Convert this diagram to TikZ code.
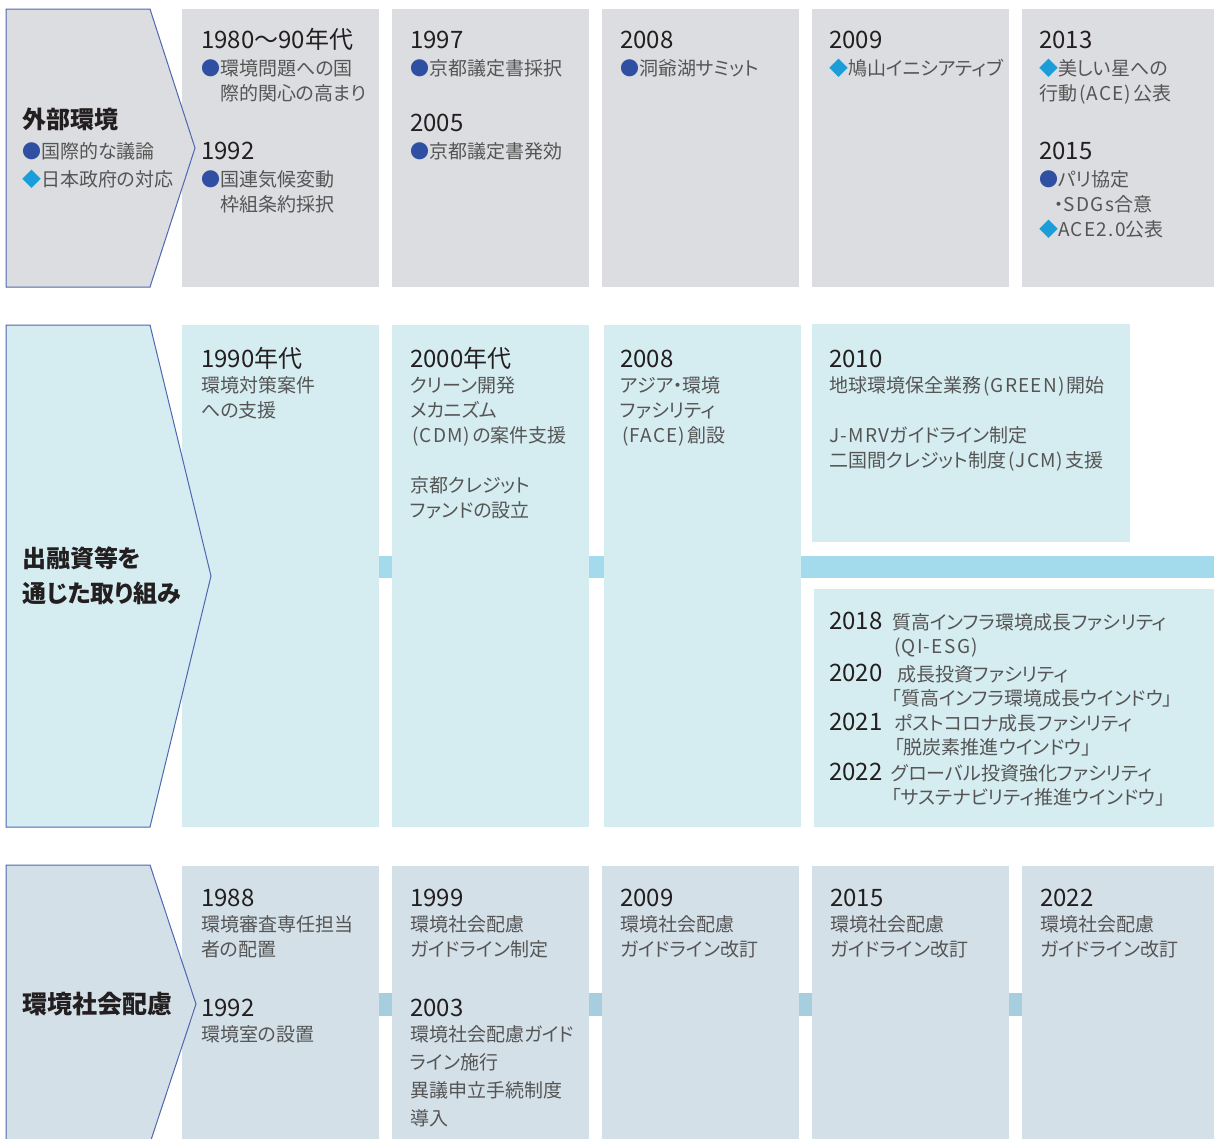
\documentclass[tikz,border=0pt]{standalone}
\usepackage{fontspec}
\setmainfont{Noto Sans CJK JP}[RawFeature=+palt]
\usetikzlibrary{fit}
\definecolor{row1}{HTML}{DCDDE0}
\definecolor{row2}{HTML}{D5EDF1}
\definecolor{row3}{HTML}{D4E0E8}
\definecolor{band2}{HTML}{A3DAEC}
\definecolor{band3}{HTML}{A7CEDF}
\definecolor{edge}{HTML}{4F67B0}
\definecolor{dotc}{HTML}{2F4FA2}
\definecolor{diac}{HTML}{1B9DD9}
\definecolor{ink}{HTML}{231F20}
\definecolor{body}{HTML}{555555}
\newcommand{\yr}[1]{{\fontsize{24}{25}\selectfont\color{ink}#1}}
\newcommand{\hd}[1]{{\fontsize{24}{28}\selectfont\bfseries\color{ink}#1}}
\newcommand{\dotb}{{\color{dotc}●}}
\newcommand{\diab}{{\color{diac}◆}}
\newcommand{\lt}[1]{{\addfontfeatures{LetterSpace=7}#1}}
\newcommand{\pp}[1]{\kern2pt(\kern1pt\lt{#1}\kern1pt)\kern2pt}
\begin{document}
\begin{tikzpicture}[x=1pt,y=-1pt,
    card/.style={inner sep=0pt,outer sep=0pt,fill=#1},
    head/.style={draw=edge,line width=1pt},
    link/.style={draw=#1,line width=22pt},
    txt/.style={anchor=base west,inner sep=0pt,align=left,text=body,font=\fontsize{19}{25}\selectfont},
    yy/.style={txt,text=ink,font=\fontsize{24}{25}\selectfont},
    sm/.style={txt,font=\fontsize{19}{24}\selectfont}]
  \useasboundingbox (0,0) rectangle (1214,1138);
  % 外部環境 (text nodes sit on their last line)
  \node[card=row1,fit={(182,9) (379,287)}] (a1) {};
  \node[card=row1,fit={(392,9) (589,287)}] (a2) {};
  \node[card=row1,fit={(602,9) (799,287)}] (a3) {};
  \node[card=row1,fit={(812,9) (1009,287)}] (a4) {};
  \node[card=row1,fit={(1022,9) (1214,287)}] (a5) {};
  \draw[head,fill=row1] (6,9) -- (150,9) -- (195,148) -- (150,287) -- (6,287) -- cycle;
  \node[txt,font=\fontsize{19}{28}\selectfont] (ahead) at (22,186) {\hd{外部環境}\\[2pt]\dotb 国際的な議論\\\diab 日本政府の対応};
  \node[txt] (a1x) at (201,100) {\yr{1980～90年代}\\[2pt]\dotb 環境問題への国\\\hspace*{1em}際的関心の高まり};
  \node[txt] (a1y) at (201,211) {\yr{1992}\\[2pt]\dotb 国連気候変動\\\hspace*{1em}枠組条約採択};
  \node[txt] (a2x) at (410,75) {\yr{1997}\\[2pt]\dotb 京都議定書採択};
  \node[txt] (a2y) at (410,158) {\yr{2005}\\[2pt]\dotb 京都議定書発効};
  \node[txt] (a3x) at (620,75) {\yr{2008}\\[2pt]\dotb 洞爺湖サミット};
  \node[txt] (a4x) at (829,75) {\yr{2009}\\[2pt]\diab 鳩山イニシアティブ};
  \node[txt] (a5x) at (1039,100) {\yr{2013}\\[2pt]\diab 美しい星への\\行動\pp{ACE}公表};
  \node[txt] (a5y) at (1039,236) {\yr{2015}\\[2pt]\dotb パリ協定\\\hspace*{0.8em}・\lt{SDGs}合意\\\diab \lt{ACE2.0}公表};
  % 出融資等を通じた取り組み
  \node[card=row2,fit={(182,325) (379,827)}] (b1) {};
  \node[card=row2,fit={(392,325) (589,827)}] (b2) {};
  \node[card=row2,fit={(604,325) (801,827)}] (b3) {};
  \node[card=row2,fit={(812,324) (1130,542)}] (b4) {};
  \node[card=row2,fit={(814,589) (1214,827)}] (b5) {};
  \draw[head,fill=row2] (6,325) -- (150,325) -- (211,576) -- (150,827) -- (6,827) -- cycle;
  \coordinate (bend) at (1214,566.5);
  \draw[link=band2] (b1.east |- bend) -- (b2.west |- bend);
  \draw[link=band2] (b2.east |- bend) -- (b3.west |- bend);
  \draw[link=band2] (b3.east |- bend) -- (bend);
  \node[txt,text=ink,font=\fontsize{24}{35}\selectfont\bfseries] (bhead) at (22,602) {出融資等を\\通じた取り組み};
  \node[txt] (b1x) at (201,417) {\yr{1990年代}\\環境対策案件\\への支援};
  \node[txt] (b2x) at (410,517) {\yr{2000年代}\\クリーン開発\\メカニズム\\\pp{CDM}の案件支援\\[25pt]京都クレジット\\ファンドの設立};
  \node[txt] (b3x) at (620,442) {\yr{2008}\\アジア・環境\\ファシリティ\\\pp{FACE}創設};
  \node[txt] (b4x) at (829,467) {\yr{2010}\\地球環境保全業務\pp{GREEN}開始\\[25pt]\lt{J-MRV}ガイドライン制定\\二国間クレジット制度\pp{JCM}支援};
  \node[yy] (y18) at (829,629) {2018};
  \node[sm] (t18) at (892,653) {質高インフラ環境成長ファシリティ\\\pp{QI-ESG}};
  \node[yy] (y20) at (829,681) {2020};
  \node[sm] (t20) at (897,705) {成長投資ファシリティ\\\hspace*{-0.3em}「質高インフラ環境成長ウインドウ」};
  \node[yy] (y21) at (829,730) {2021};
  \node[sm] (t21) at (894,754) {ポストコロナ成長ファシリティ\\「脱炭素推進ウインドウ」};
  \node[yy] (y22) at (829,780) {2022};
  \node[sm] (t22) at (891,804) {グローバル投資強化ファシリティ\\「サステナビリティ推進ウインドウ」};
  % 環境社会配慮
  \node[card=row3,fit={(182,866) (379,1140)}] (c1) {};
  \node[card=row3,fit={(392,866) (589,1140)}] (c2) {};
  \node[card=row3,fit={(602,866) (799,1140)}] (c3) {};
  \node[card=row3,fit={(812,866) (1009,1140)}] (c4) {};
  \node[card=row3,fit={(1022,866) (1214,1140)}] (c5) {};
  \draw[head,fill=row3] (6,865) -- (150,865) -- (196,1004) -- (150,1143) -- (6,1143) -- cycle;
  \coordinate (cmid) at (0,1004.5);
  \foreach \p/\q in {c1/c2,c2/c3,c3/c4,c4/c5}
    \draw[link=band3,line width=23pt] (\p.east |- cmid) -- (\q.west |- cmid);
  \node[txt,text=ink,font=\fontsize{25}{28}\selectfont\bfseries] (chead) at (22,1013) {環境社会配慮};
  \node[txt] (c1x) at (201,956) {\yr{1988}\\環境審査専任担当\\者の配置};
  \node[txt] (c1y) at (201,1041) {\yr{1992}\\環境室の設置};
  \node[txt] (c2x) at (410,956) {\yr{1999}\\環境社会配慮\\ガイドライン制定};
  \node[txt,font=\fontsize{19}{28}\selectfont] (c2y) at (410,1125) {\yr{2003}\\[-3pt]環境社会配慮ガイド\\ライン施行\\異議申立手続制度\\導入};
  \node[txt] (c3x) at (620,956) {\yr{2009}\\環境社会配慮\\ガイドライン改訂};
  \node[txt] (c4x) at (830,956) {\yr{2015}\\環境社会配慮\\ガイドライン改訂};
  \node[txt] (c5x) at (1040,956) {\yr{2022}\\環境社会配慮\\ガイドライン改訂};
\end{tikzpicture}
\end{document}
